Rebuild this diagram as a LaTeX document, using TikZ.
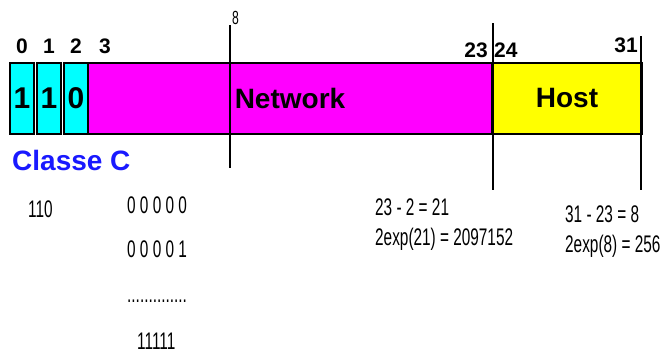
\documentclass[tikz,border=0pt]{standalone}
\usepackage{fontspec}
\setmainfont{Liberation Sans}
\newfontfamily\narrowfont[FakeStretch=0.64]{Liberation Sans}
\usetikzlibrary{positioning}
\definecolor{bitcyan}{RGB}{0,255,255}
\definecolor{netmagenta}{RGB}{255,0,255}
\definecolor{hostyellow}{RGB}{255,255,0}
\definecolor{classblue}{RGB}{25,25,255}
\tikzstyle{field}=[draw,line width=1.6pt,outer sep=0pt,inner sep=0pt,minimum height=71pt,font=\fontsize{28}{28}\selectfont\bfseries]
\tikzstyle{bit}=[field,fill=bitcyan,minimum width=24pt,font=\fontsize{30}{30}\selectfont\bfseries]
\tikzstyle{bitno}=[inner sep=0pt,font=\fontsize{21}{21}\selectfont\bfseries]
\tikzstyle{note}=[inner sep=0pt,anchor=base west,font=\fontsize{24}{24}\narrowfont]
\tikzstyle{cutline}=[line width=1.2pt]

\begin{document}
\begin{tikzpicture}[x=1pt,y=-1pt]
        \useasboundingbox (0,0) rectangle (670,354);
        % the address, bit by bit
        \node[bit] (b0) at (22,98.5) {1};
        \node[bit,right=3pt of b0] (b1) {1};
        \node[bit,right=3pt of b1] (b2) {0};
        \node[field,fill=netmagenta,minimum width=404pt,right=0pt of b2] (net) {Network};
        \node[field,fill=hostyellow,minimum width=150pt,right=0pt of net] (host) {Host};
        % bit numbers
        \node[bitno,above=9pt of b0] (n0) {0};
        \node[bitno,above=9pt of b1] (n1) {1};
        \node[bitno,above=9pt of b2] (n2) {2};
        \node[bitno,above right=9pt and 11pt of net.north west] (n3) {3};
        \node[bitno,above left=5pt and 4pt of net.north east] (n23) {23};
        \node[bitno,above right=5pt and 2pt of host.north west] (n24) {24};
        \node[bitno,above left=10pt and 4pt of host.north east] (n31) {31};
        \node[inner sep=0pt,anchor=base west,text=classblue,font=\fontsize{28}{28}\selectfont\bfseries] (cls) at (12,170) {Classe C};
        % cuts
        \coordinate (t8) at (230,25);
        \coordinate (u8) at (230,168);
        \coordinate (t23) at (493,23);
        \coordinate (u23) at (493,190);
        \coordinate (t31) at (641,36);
        \coordinate (u31) at (641,190);
        \draw[cutline] (t8) -- (u8);
        \draw[cutline] (t23) -- (u23);
        \draw[cutline] (t31) -- (u31);
        \node[note,anchor=south west,font=\fontsize{19}{19}\narrowfont,above right=0pt and 2pt of t8] (l8) {8};
        % counting
        \node[note] (p0) at (28,217) {110};
        \node[note] (h0) at (127,213) {0 0 0 0 0};
        \node[note] (h1) at (127,257) {0 0 0 0 1};
        \node[note] (hd) at (127,302) {..............};
        \node[note] (hn) at (137,349) {11111};
        \node[note] (c1) at (375,215) {23 - 2 = 21};
        \node[note] (c2) at (375,245) {2exp(21) = 2097152};
        \node[note] (c3) at (565,222) {31 - 23 = 8};
        \node[note] (c4) at (565,252) {2exp(8) = 256};
\end{tikzpicture}
\end{document}
